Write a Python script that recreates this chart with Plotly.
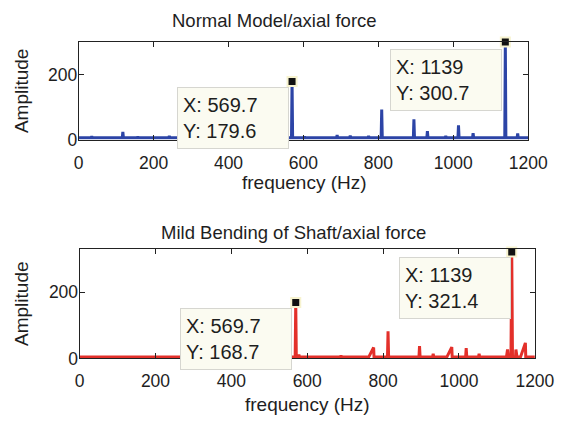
import plotly.graph_objects as go

# ---------------- data ----------------
x_ticks = [0, 200, 400, 600, 800, 1000, 1200]
y_ticks = [0, 200]

# Normal model spectrum (peaks)
normal_base = 6
normal_freq = [35, 118, 158, 242, 569.7, 603, 653, 690, 725, 774, 809, 847, 895, 931, 980, 1014, 1053, 1139, 1172]
normal_amp = [10, 24, 9, 11, 179.6, 9, 8, 14, 12, 11, 93, 8, 63, 26, 11, 44, 20, 300.7, 19]
normal_lw = [1.5] * len(normal_freq)
normal_rw = [1.5] * len(normal_freq)

# Mild bending spectrum (peaks)
bend_base = 4
bend_freq = [37, 158, 569.7, 578, 602, 653, 689, 727, 775, 813, 853, 896, 932, 981, 1019, 1053, 1128, 1139, 1150, 1175]
bend_amp = [6, 6, 168.7, 12, 6, 7, 9, 5, 33, 82, 5, 37, 14, 34, 31, 14, 27, 321.4, 27, 47]
bend_lw = [1.5, 1.5, 1.5, 1.5, 1.5, 1.5, 1.5, 1.5, 13, 1.5, 1.5, 1.5, 1.5, 13, 1.5, 1.5, 3, 2, 1, 13]
bend_rw = [1.5, 1.5, 1.5, 1.5, 1.5, 1.5, 1.5, 1.5, 1, 1.5, 1.5, 1.5, 1.5, 1, 1.5, 1.5, 2, 2, 3, 1]

# data tips
tips_top = [(569.7, 179.6), (1139, 300.7)]
tips_bot = [(569.7, 168.7), (1139, 321.4)]

# ---------------- helpers ----------------
def build_line(base, freqs, amps, lw, rw, fmax=1200):
    xs, ys = [0], [base]
    for f, a, l, r in zip(freqs, amps, lw, rw):
        xs += [f - l, f, f + r]
        ys += [base, a, base]
    xs.append(fmax)
    ys.append(base)
    return xs, ys

W, H = 574, 429
FONT = "Liberation Sans, Arial, Helvetica, sans-serif"
TXT = "#1e1e1e"
BLUE = "#2c44a6"
RED = "#e3302a"

def px(xp):
    return xp / W

def py(yp):
    return 1 - yp / H

fig = go.Figure()

xt, yt = build_line(normal_base, normal_freq, normal_amp, normal_lw, normal_rw)
fig.add_trace(go.Scatter(x=xt, y=yt, mode="lines", line=dict(color=BLUE, width=3),
                         xaxis="x", yaxis="y", showlegend=False, hoverinfo="skip"))
xb, yb = build_line(bend_base, bend_freq, bend_amp, bend_lw, bend_rw)
fig.add_trace(go.Scatter(x=xb, y=yb, mode="lines", line=dict(color=RED, width=3),
                         xaxis="x2", yaxis="y2", showlegend=False, hoverinfo="skip"))

# data-tip markers
for tips, xa, ya in [(tips_top, "x", "y"), (tips_bot, "x2", "y2")]:
    fig.add_trace(go.Scatter(x=[t[0] for t in tips], y=[t[1] for t in tips], mode="markers",
                             marker=dict(symbol="square", size=9, color="#111111",
                                         line=dict(color="#f7f3cf", width=2)),
                             cliponaxis=False, xaxis=xa, yaxis=ya, showlegend=False,
                             hoverinfo="skip"))

axis_common = dict(showline=True, linecolor="#222222", linewidth=1, mirror="ticks",
                   ticks="inside", ticklen=5, tickcolor="#222222", showgrid=False,
                   zeroline=False, tickfont=dict(family=FONT, size=17.5, color=TXT))
xstyle = dict(ticklabelstandoff=7, **axis_common)
ystyle = dict(ticklabelstandoff=-3, **axis_common)

fig.update_layout(
    width=W, height=H, margin=dict(l=0, r=0, t=0, b=0),
    paper_bgcolor="white", plot_bgcolor="white",
    xaxis=dict(domain=[px(77), px(547)], range=[0, 1200], tickvals=x_ticks,
               anchor="y", **xstyle),
    yaxis=dict(domain=[py(143), py(43)], range=[0, 301], tickvals=y_ticks,
               anchor="x", **ystyle),
    xaxis2=dict(domain=[px(78), px(554)], range=[0, 1200], tickvals=x_ticks,
                anchor="y2", **xstyle),
    yaxis2=dict(domain=[py(367), py(255)], range=[0, 330], tickvals=y_ticks,
                anchor="x2", **ystyle),
)

ann = []
def text(x, y, s, size=19, angle=0):
    ann.append(dict(x=px(x), y=py(y), xref="paper", yref="paper", text=s, showarrow=False,
                    xanchor="center", yanchor="middle", textangle=angle,
                    font=dict(family=FONT, size=size, color=TXT)))

text(282, 21, "Normal Model/axial force", size=18.5)
text(302, 238, "Mild Bending of Shaft/axial force", size=18.5)
text(313, 187, "frequency (Hz)")
text(316, 414, "frequency (Hz)")
text(18, 93, "Amplitude", angle=-90)
text(18, 311, "Amplitude", angle=-90)

# data-tip boxes (anchored in data coordinates)
boxes = [("x", "y", 263, 162, tips_top[0]), ("x", "y", 832, 280, tips_top[1]),
         ("x2", "y2", 265, 153, tips_bot[0]), ("x2", "y2", 841, 306, tips_bot[1])]
for xa, ya, bx, by, (tx, ty) in boxes:
    ann.append(dict(x=bx, y=by, xref=xa, yref=ya, xanchor="left", yanchor="top",
                    text=f"X: {tx:g}<br>Y: {ty:g}", showarrow=False, align="left",
                    width=100, height=50, borderpad=5, bgcolor="#fbfbf1",
                    bordercolor="#d6d6d0", borderwidth=1,
                    font=dict(family=FONT, size=20, color=TXT)))

fig.update_layout(annotations=ann)
fig.write_html("out.html")
